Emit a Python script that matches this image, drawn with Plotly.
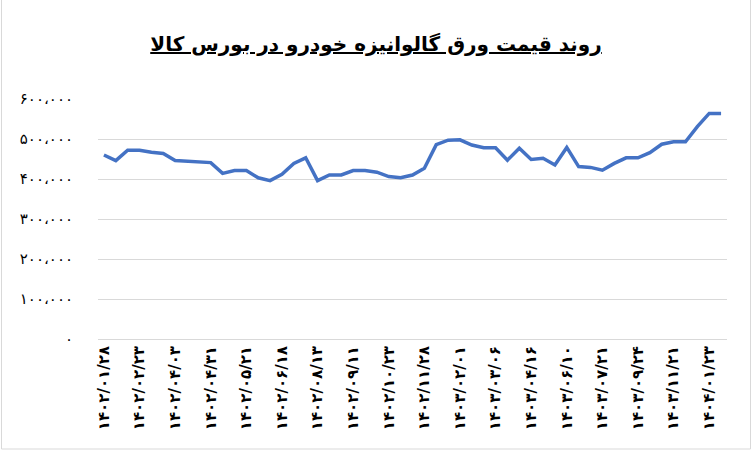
import plotly.graph_objects as go

title_text = "روند قیمت ورق گالوانیزه خودرو در بورس کالا"

prices = [460000, 446000, 472000, 472000, 467000, 464000, 446000, 444000, 444000, 441000,
          414000, 421000, 421000, 403000, 396000, 412000, 439000, 453000, 396000, 410000,
          410000, 421000, 421000, 417000, 406000, 403000, 410000, 427000, 486000, 497000,
          498000, 485000, 478000, 478000, 447000, 477000, 449000, 452000, 435000, 479000,
          431000, 429000, 422000, 439000, 453000, 453000, 466000, 487000, 493000, 493000,
          531000, 564000, 564000]

date_labels = ["۱۴۰۲/۰۱/۲۸", "۱۴۰۲/۰۲/۲۳", "۱۴۰۲/۰۴/۰۳", "۱۴۰۲/۰۴/۳۱", "۱۴۰۲/۰۵/۲۱",
               "۱۴۰۲/۰۶/۱۸", "۱۴۰۲/۰۸/۱۳", "۱۴۰۲/۰۹/۱۱", "۱۴۰۲/۱۰/۲۳", "۱۴۰۲/۱۱/۲۸",
               "۱۴۰۳/۰۲/۰۱", "۱۴۰۳/۰۳/۰۶", "۱۴۰۳/۰۴/۱۶", "۱۴۰۳/۰۶/۱۰", "۱۴۰۳/۰۷/۲۱",
               "۱۴۰۳/۰۹/۲۴", "۱۴۰۳/۱۱/۲۱", "۱۴۰۴/۰۱/۲۳"]
label_step = 3

y_ticks = [0, 100000, 200000, 300000, 400000, 500000, 600000]
y_tick_labels = ["۰", "۱۰۰،۰۰۰", "۲۰۰،۰۰۰", "۳۰۰،۰۰۰", "۴۰۰،۰۰۰", "۵۰۰،۰۰۰", "۶۰۰،۰۰۰"]

idx = list(range(len(prices)))
tick_positions = idx[::label_step][:len(date_labels)]

fig = go.Figure(go.Scatter(
    x=idx, y=prices, mode="lines",
    line=dict(color="#4472C4", width=3.5),
    hoverinfo="skip",
))

W, H = 752, 452
L, R, T, B = 98, 25, 99, 113
pw, ph = W - L - R, H - T - B

fig.update_layout(
    width=W, height=H,
    margin=dict(l=L, r=R, t=T, b=B),
    paper_bgcolor="white", plot_bgcolor="white",
    showlegend=False,
    font=dict(family="DejaVu Sans", color="black"),
    title=dict(
        text="<b><u>" + title_text + "</u></b>",
        x=0.5, xanchor="center", xref="container",
        y=1 - 44 / H, yanchor="middle", yref="container",
        font=dict(size=20, color="black", family="DejaVu Sans"),
    ),
    xaxis=dict(
        range=[-0.5, len(prices) - 0.5],
        tickmode="array", tickvals=tick_positions, ticktext=date_labels,
        tickangle=-90, showgrid=False, zeroline=False,
        showline=True, linecolor="#d9d9d9", linewidth=1,
        tickfont=dict(size=15, color="black", weight="bold"),
        ticks="",
    ),
    yaxis=dict(
        range=[0, 600000],
        tickmode="array", tickvals=y_ticks, ticktext=y_tick_labels,
        showgrid=True, gridcolor="#d9d9d9", gridwidth=1,
        zeroline=False, showline=False,
        tickfont=dict(size=15, color="black"),
        ticks="", ticklabelstandoff=24,
    ),
    shapes=[dict(
        type="rect", xref="paper", yref="paper",
        x0=(1.5 - L) / pw, x1=(W - 1.5 - L) / pw,
        y0=-(H - 3 - (T + ph)) / ph, y1=(H - T - 1.5) / ph,
        line=dict(color="#d9d9d9", width=1), fillcolor="rgba(0,0,0,0)",
        layer="below",
    )],
)

fig.write_html("out.html", config={"displayModeBar": False},
               post_script="document.body.style.margin='0';")
